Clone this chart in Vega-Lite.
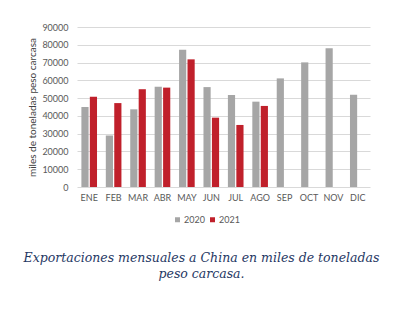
{
  "$schema": "https://vega.github.io/schema/vega-lite/v6.json",
  "width": 293,
  "height": 160,
  "autosize": {"type": "none"},
  "padding": {"left": 77, "top": 27, "right": 42, "bottom": 138},
  "background": "white",
  "data": {
    "values": [
      {"mes": "ENE", "anio": "2020", "valor": 45000},
      {"mes": "ENE", "anio": "2021", "valor": 50800},
      {"mes": "FEB", "anio": "2020", "valor": 29000},
      {"mes": "FEB", "anio": "2021", "valor": 47200},
      {"mes": "MAR", "anio": "2020", "valor": 43700},
      {"mes": "MAR", "anio": "2021", "valor": 55000},
      {"mes": "ABR", "anio": "2020", "valor": 56400},
      {"mes": "ABR", "anio": "2021", "valor": 55900},
      {"mes": "MAY", "anio": "2020", "valor": 77200},
      {"mes": "MAY", "anio": "2021", "valor": 71800},
      {"mes": "JUN", "anio": "2020", "valor": 56200},
      {"mes": "JUN", "anio": "2021", "valor": 39000},
      {"mes": "JUL", "anio": "2020", "valor": 51800},
      {"mes": "JUL", "anio": "2021", "valor": 34900},
      {"mes": "AGO", "anio": "2020", "valor": 48000},
      {"mes": "AGO", "anio": "2021", "valor": 45600},
      {"mes": "SEP", "anio": "2020", "valor": 61100},
      {"mes": "OCT", "anio": "2020", "valor": 70100},
      {"mes": "NOV", "anio": "2020", "valor": 78000},
      {"mes": "DIC", "anio": "2020", "valor": 51900}
    ]
  },
  "title": {
    "text": ["Exportaciones mensuales a China en miles de toneladas", "peso carcasa."],
    "orient": "bottom",
    "anchor": "middle",
    "font": "DejaVu Serif",
    "fontStyle": "italic",
    "fontWeight": "normal",
    "fontSize": 12.5,
    "lineHeight": 16,
    "color": "#1F3864",
    "offset": 27,
    "dx": -22
  },
  "mark": {"type": "bar"},
  "encoding": {
    "x": {
      "field": "mes",
      "type": "nominal",
      "sort": ["ENE","FEB","MAR","ABR","MAY","JUN","JUL","AGO","SEP","OCT","NOV","DIC"],
      "scale": {"paddingInner": 0.36, "paddingOuter": 0.18},
      "axis": {
        "title": null,
        "labelAngle": 0,
        "labelFont": "Lato",
        "labelFontSize": 9,
        "labelColor": "#595959",
        "labelPadding": 6,
        "ticks": false,
        "domain": false
      }
    },
    "xOffset": {
      "field": "anio",
      "type": "nominal",
      "scale": {"paddingInner": 0.15, "domain": ["2020", "2021"]}
    },
    "y": {
      "field": "valor",
      "type": "quantitative",
      "scale": {"domain": [0, 90000]},
      "axis": {
        "title": "miles de toneladas peso carcasa",
        "titleFont": "Lato",
        "titleFontSize": 10,
        "titleFontWeight": "normal",
        "titleColor": "#404040",
        "titlePadding": 4,
        "values": [0,10000,20000,30000,40000,50000,60000,70000,80000,90000],
        "format": "d",
        "labelFont": "Lato",
        "labelFontSize": 9,
        "labelColor": "#595959",
        "labelPadding": 9,
        "ticks": false,
        "domain": false,
        "gridColor": "#D9D9D9",
        "gridWidth": 1
      }
    },
    "color": {
      "field": "anio",
      "type": "nominal",
      "scale": {"domain": ["2020", "2021"], "range": ["#A6A6A6", "#C0202B"]},
      "legend": {
        "title": null,
        "orient": "none",
        "direction": "horizontal",
        "legendX": 96,
        "legendY": 188,
        "symbolType": "square",
        "symbolSize": 25,
        "labelFont": "Lato",
        "labelFontSize": 9,
        "labelColor": "#595959",
        "columnPadding": 3,
        "symbolOffset": 0,
        "labelOffset": 2,
        "padding": 0
      }
    }
  },
  "config": {"view": {"stroke": null}}
}
